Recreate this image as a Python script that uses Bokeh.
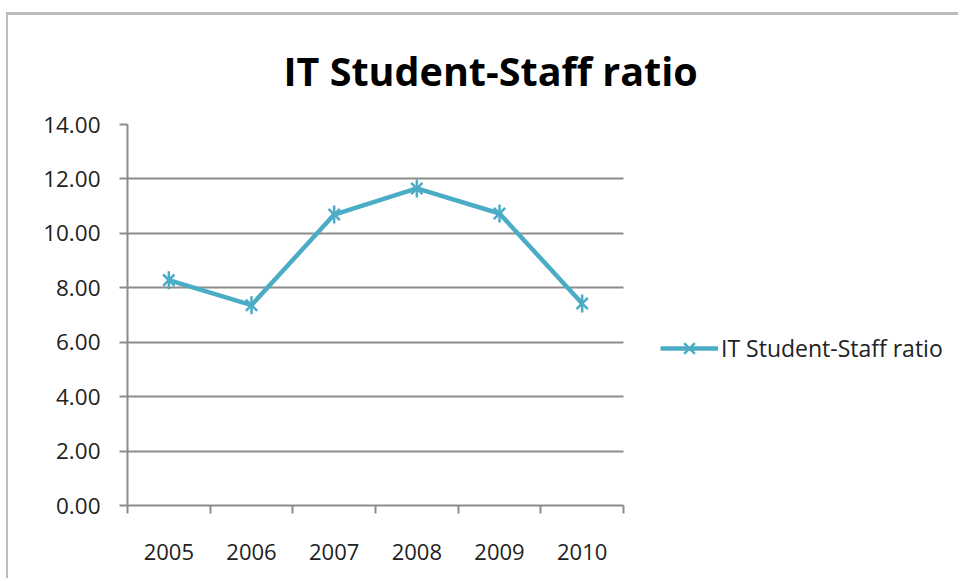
from bokeh.plotting import figure
from bokeh.models import Range1d, FixedTicker, NumeralTickFormatter, Legend, LegendItem
from bokeh.embed import file_html
from bokeh.resources import INLINE
import numpy as np

years = ["2005", "2006", "2007", "2008", "2009", "2010"]
ratio = [8.28, 7.36, 10.69, 11.65, 10.73, 7.42]
y_ticks = [0, 2, 4, 6, 8, 10, 12, 14]
title_text = "IT Student-Staff ratio"
series_name = "IT Student-Staff ratio"

FONT = "Open Sans"
LINE_COLOR = "#4bacc6"
GRID = "#8c8c8c"

# layout (pixels)
CANVAS_W, CANVAS_H = 952, 566
BORDER_L, BORDER_T, BORDER_B = 119, 109, 76
PLOT_AREA_W = 496          # width of the plotted (gridded) area
FRAME_W = CANVAS_W - BORDER_L

n = len(years)
xs = [i + 0.5 for i in range(n)]
x_end = n * FRAME_W / PLOT_AREA_W

p = figure(width=CANVAS_W, height=CANVAS_H, output_backend="svg", toolbar_location=None,
           x_range=Range1d(0, x_end), y_range=Range1d(0, 14),
           min_border_left=BORDER_L, min_border_right=0, min_border_top=BORDER_T,
           min_border_bottom=BORDER_B)
p.margin = (12, 0, 0, 6)
p.styles = {"border-top": "3px solid #bdbdbd", "border-left": "2px solid #bdbdbd"}

p.title.text = title_text
p.title.align = "left"
p.title.offset = 156
p.title.text_font = FONT
p.title.text_font_size = "39.5px"
p.title.text_font_style = "bold"
p.title.text_color = "#000000"
p.title.standoff = 53

p.outline_line_color = None
p.background_fill_color = "white"
p.border_fill_color = "white"

p.xgrid.visible = False
p.ygrid.grid_line_color = GRID
p.ygrid.grid_line_width = 2
p.ygrid.ticker = FixedTicker(ticks=y_ticks)
p.ygrid.cross_bounds = (0, n)

# y axis
yax = p.yaxis[0]
yax.ticker = FixedTicker(ticks=y_ticks)
yax.formatter = NumeralTickFormatter(format="0.00")
yax.axis_line_color = GRID
yax.axis_line_width = 2
yax.major_tick_line_color = GRID
yax.major_tick_line_width = 2
yax.major_tick_out = 8
yax.major_tick_in = 0
yax.minor_tick_line_color = None
yax.major_label_standoff = 19
yax.major_label_text_font = FONT
yax.major_label_text_font_size = "22.5px"
yax.major_label_text_color = "#222222"

# x axis
xax = p.xaxis[0]
xax.bounds = (0, n)
xax.ticker = FixedTicker(ticks=xs, minor_ticks=list(range(n + 1)))
xax.major_label_overrides = {x: y for x, y in zip(xs, years)}
xax.axis_line_color = GRID
xax.axis_line_width = 2
xax.major_tick_line_color = None
xax.major_tick_out = 0
xax.major_tick_in = 0
xax.minor_tick_line_color = GRID
xax.minor_tick_line_width = 2
xax.minor_tick_out = 8
xax.minor_tick_in = 0
xax.major_label_standoff = 30
xax.major_label_text_font = FONT
xax.major_label_text_font_size = "22px"
xax.major_label_text_color = "#222222"

l = p.line(xs, ratio, line_color=LINE_COLOR, line_width=4.5)
s1 = p.scatter(xs, ratio, marker="x", size=16, line_color=LINE_COLOR, line_width=2.5)
s2 = p.scatter(xs, ratio, marker="dash", angle=np.pi / 2, size=18,
               line_color=LINE_COLOR, line_width=2.5)

legend = Legend(items=[LegendItem(label=series_name, renderers=[l, s1, s2])],
                location=(533, 138), padding=0, margin=0, spacing=0,
                glyph_width=58, glyph_height=38, label_standoff=3,
                border_line_color=None, background_fill_alpha=0,
                label_text_font=FONT, label_text_font_size="23px",
                label_text_color="#222222")
p.add_layout(legend)

open("out.html", "w").write(file_html(p, INLINE))
